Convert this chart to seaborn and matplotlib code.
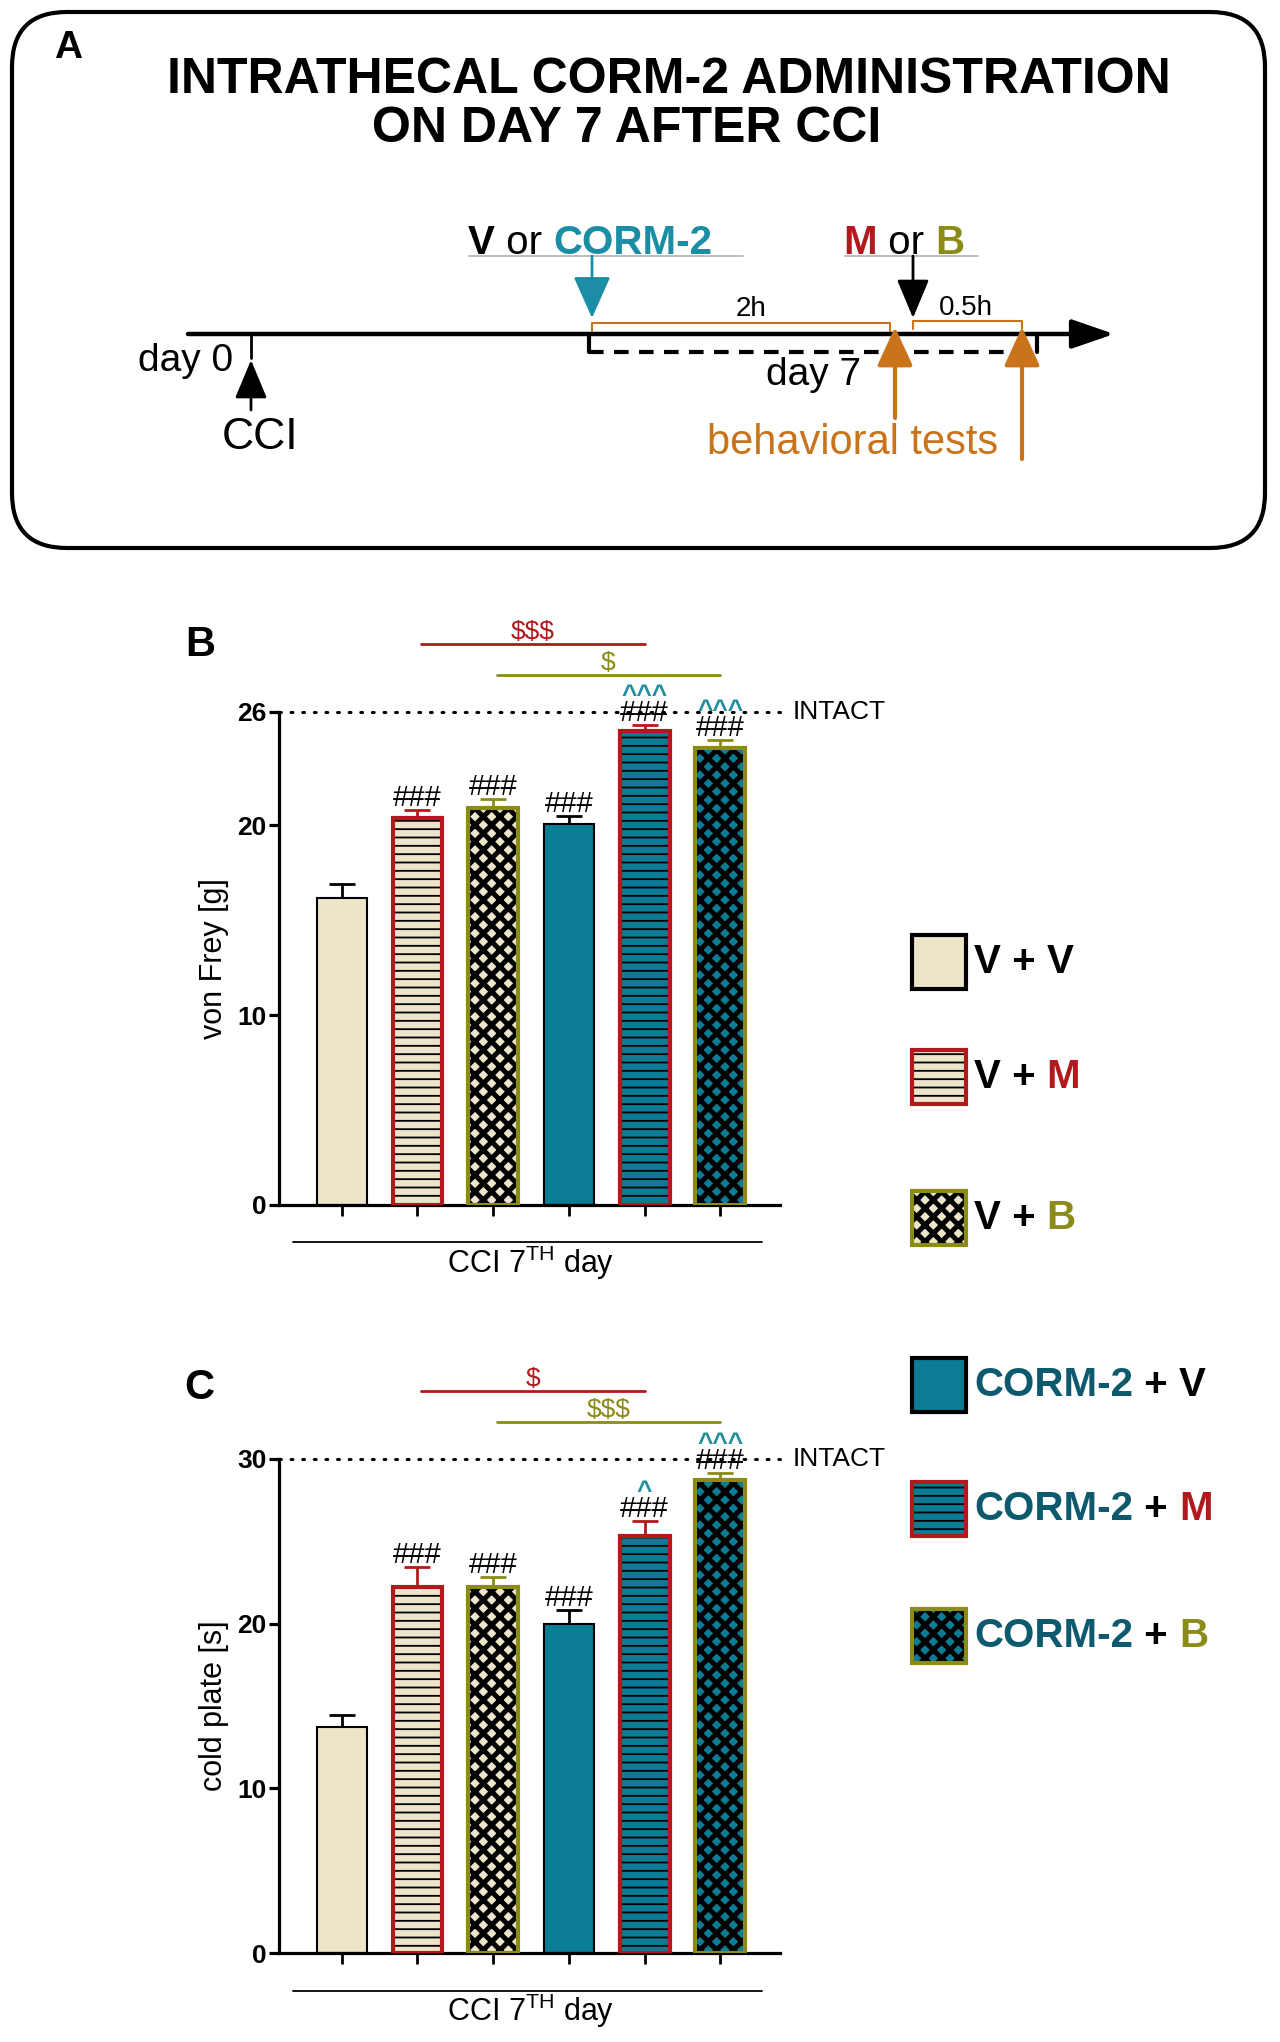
import matplotlib
matplotlib.use("Agg")
import matplotlib.pyplot as plt
import matplotlib.transforms as mtransforms
from matplotlib.patches import Rectangle, FancyBboxPatch
import seaborn as sns

# ---- data ----
groups = ["V + V", "V + M", "V + B", "CORM-2 + V", "CORM-2 + M", "CORM-2 + B"]

vonfrey_mean = [16.2, 20.4, 20.9, 20.1, 25.0, 24.1]
vonfrey_sem = [0.7, 0.4, 0.5, 0.4, 0.3, 0.4]
vonfrey_hash = ["", "###", "###", "###", "###", "###"]
vonfrey_caret = ["", "", "", "", "^^^", "^^^"]
vonfrey_dollar = [(r"\$\$\$", 1, 4), (r"\$", 2, 5)]
vonfrey_intact = 26
vonfrey_ticks = [0, 10, 20, 26]

coldplate_mean = [13.7, 22.2, 22.2, 20.0, 25.3, 28.7]
coldplate_sem = [0.75, 1.25, 0.65, 0.8, 0.95, 0.45]
coldplate_hash = ["", "###", "###", "###", "###", "###"]
coldplate_caret = ["", "", "", "", "^", "^^^"]
coldplate_dollar = [(r"\$", 1, 4), (r"\$\$\$", 2, 5)]
coldplate_intact = 30
coldplate_ticks = [0, 10, 20, 30]

# ---- colours / styles ----
BEIGE = "#ece5c9"
TEAL = "#0b7c96"
RED = "#b3191c"
OLIVE = "#8b8b17"
CARET = "#1f8ea0"
ORANGE = "#c9731a"
ARROW_TEAL = "#1b8ea6"
LEGEND_TEAL = "#0d5a6e"

face = [BEIGE, BEIGE, BEIGE, TEAL, TEAL, TEAL]
edge = ["black", RED, OLIVE, "black", RED, OLIVE]
edge_lw = [1.5, 3, 3, 1.5, 3, 3]
hatch = ["", "--", "xx", "", "--", "xx"]
hatch_lw = [1, 1.3, 3.6, 1, 1.3, 3.6]
dollar_colors = [RED, OLIVE]

sns.set_theme(style="ticks")
plt.rcParams["font.family"] = ["Liberation Sans", "DejaVu Sans"]
plt.rcParams["mathtext.fontset"] = "custom"
plt.rcParams["mathtext.rm"] = "Liberation Sans"
plt.rcParams["mathtext.it"] = "Liberation Sans:italic"
plt.rcParams["mathtext.bf"] = "Liberation Sans:bold"
for key in ("text.color", "axes.labelcolor", "xtick.color", "ytick.color", "axes.edgecolor"):
    plt.rcParams[key] = "black"

W, H = 1280, 2042
fig = plt.figure(figsize=(W / 100, H / 100), dpi=100)

# overlay in pixel coordinates for the schematic, panel letters and legend
ax0 = fig.add_axes([0, 0, 1, 1])
ax0.set_xlim(0, W)
ax0.set_ylim(H, 0)
ax0.axis("off")


def rainbow(ax, x, y, pieces, size, va="center"):
    t = ax.text(x, y, pieces[0][0], color=pieces[0][1], fontweight=pieces[0][2],
                fontsize=size, va=va, ha="left")
    for s, c, w in pieces[1:]:
        t = ax.annotate(s, xy=(1, 0), xycoords=t, va="bottom", ha="left",
                        color=c, fontweight=w, fontsize=size)
    return t


def arrow(ax, tail, tip, color, lw, hl=1.2, hw=0.5):
    ax.annotate("", xy=tip, xytext=tail,
                arrowprops=dict(arrowstyle=f"-|>,head_length={hl},head_width={hw}",
                                mutation_scale=20, lw=lw, color=color,
                                shrinkA=0, shrinkB=0))


# ---------------- panel A: schematic ----------------
ax0.add_patch(FancyBboxPatch((12, 12), 1253, 536, boxstyle="round,pad=0,rounding_size=55",
                             fill=False, lw=3, ec="black"))
ax0.text(68, 48, "A", fontsize=28, fontweight="bold", ha="center", va="center")
ax0.text(669, 80, "INTRATHECAL CORM-2 ADMINISTRATION", fontsize=36,
         fontweight="bold", ha="center", va="center")
ax0.text(627, 129, "ON DAY 7 AFTER CCI", fontsize=36, fontweight="bold",
         ha="center", va="center")

arrow(ax0, (188, 334), (1114, 334), "black", 3.2, hl=1.3, hw=0.45)
ax0.plot([251, 251], [334, 358], color="black", lw=2)
arrow(ax0, (251, 410), (251, 360), "black", 2)
ax0.text(186, 361, "day 0", fontsize=28, ha="center", va="center")
ax0.text(260, 437, "CCI", fontsize=32, ha="center", va="center")

ax0.plot([589, 589], [334, 352], color="black", lw=3)
ax0.plot([589, 1037], [352, 352], color="black", lw=3, ls=(0, (3.5, 2.5)))
ax0.plot([1037, 1037], [334, 352], color="black", lw=3)
ax0.text(814, 375, "day 7", fontsize=28, ha="center", va="center")

rainbow(ax0, 468, 243, [("V", "black", "bold"), (" or ", "black", "normal"),
                        ("CORM-2", ARROW_TEAL, "bold")], 29)
ax0.plot([469, 743], [256, 256], color="#b0b0b0", lw=1.2)
arrow(ax0, (592, 256), (592, 318), ARROW_TEAL, 2, hl=1.3, hw=0.58)
ax0.plot([592, 592, 890, 890], [331, 323, 323, 331], color=ORANGE, lw=1.5)
ax0.text(751, 309, "2h", fontsize=20, ha="center", va="center")

rainbow(ax0, 843, 243, [("M", RED, "bold"), (" or ", "black", "normal"),
                        ("B", OLIVE, "bold")], 29)
ax0.plot([845, 978], [256, 256], color="#b0b0b0", lw=1.2)
arrow(ax0, (913, 256), (913, 318), "black", 2)
ax0.plot([913, 913, 1022, 1022], [329, 321, 321, 329], color=ORANGE, lw=1.5)
ax0.text(966, 308, "0.5h", fontsize=20, ha="center", va="center")

arrow(ax0, (895, 418), (895, 327), ORANGE, 3, hl=1.2, hw=0.55)
arrow(ax0, (1022, 459), (1022, 327), ORANGE, 3, hl=1.2, hw=0.55)
ax0.text(853, 443, "behavioral tests", fontsize=30, color=ORANGE, ha="center", va="center")

ax0.text(200, 645, "B", fontsize=30, fontweight="bold", ha="center", va="center")
ax0.text(199, 1388, "C", fontsize=30, fontweight="bold", ha="center", va="center")


# ---------------- panels B and C ----------------
def bar_panel(ax, means, sems, hashes, carets, dollars, intact, ticks, ylabel):
    sns.barplot(x=groups, y=means, hue=groups, order=groups, hue_order=groups,
                palette=dict(zip(groups, face)), width=0.66, saturation=1,
                legend=False, errorbar=None, ax=ax)
    bars = sorted(ax.patches, key=lambda p: p.get_x())
    for i, p in enumerate(bars):
        p.set_facecolor(face[i])
        p.set_edgecolor("black")
        p.set_linewidth(0)
        p.set_hatch(hatch[i])
        if hasattr(p, "set_hatch_linewidth"):
            p.set_hatch_linewidth(hatch_lw[i])
        p.set_zorder(2)
    ax.bar(range(len(groups)), means, width=0.66, fill=False, edgecolor=edge,
           linewidth=edge_lw, zorder=3)
    for i, (m, s) in enumerate(zip(means, sems)):
        ax.errorbar(i, m, yerr=[[0], [s]], fmt="none", ecolor=edge[i],
                    elinewidth=2, capsize=9.5, capthick=2, zorder=1)
        top = m + s
        if hashes[i]:
            ax.annotate(hashes[i], xy=(i, top), xytext=(0, 3), textcoords="offset points",
                        ha="center", va="baseline", fontsize=21, color="black")
        if carets[i]:
            ax.annotate(carets[i], xy=(i, top), xytext=(0, 16), textcoords="offset points",
                        ha="center", va="baseline", fontsize=19, fontweight="bold",
                        color=CARET)

    ax.axhline(intact, color="black", lw=2.2, ls=(0, (0.6, 3.2)), dash_capstyle="round",
               zorder=0, clip_on=False)
    trans = mtransforms.blended_transform_factory(ax.transAxes, ax.transData)
    ax.text(1.026, intact, "INTACT", transform=trans, fontsize=19, va="center", ha="left")

    xt = ax.get_xaxis_transform()
    for (txt, a, b), yl, c in zip(dollars, [1.138, 1.075], dollar_colors):
        ax.plot([a + 0.05, b], [yl, yl], color=c, lw=2, transform=xt, clip_on=False)
        ax.text((a + b) / 2 + 0.02, yl + 0.01, txt, color=c, fontsize=19, ha="center",
                va="baseline", transform=xt)

    ax.plot([-0.64, 5.55], [-0.076, -0.076], color="black", lw=1.3, transform=xt,
            clip_on=False)
    ax.text(2.5, -0.118, r"CCI 7$^{\mathrm{TH}}$ day", transform=xt, fontsize=22,
            ha="center", va="center")

    ax.set_xlim(-0.83, 5.79)
    ax.set_ylim(0, intact)
    ax.set_yticks(ticks)
    ax.set_xticks(range(len(groups)))
    ax.set_xticklabels([])
    ax.set_xlabel("")
    ax.set_ylabel(ylabel, fontsize=22)
    ax.yaxis.set_label_coords(-0.1, 0.5)
    sns.despine(ax=ax)
    for sp in ("left", "bottom"):
        ax.spines[sp].set_linewidth(2.3)
    ax.tick_params(axis="y", width=2.3, length=7, labelsize=19, pad=2)
    ax.tick_params(axis="x", width=2, length=8)
    plt.setp(ax.get_yticklabels(), fontweight="bold")


left = 279 / W
width = (780 - 279) / W
axB = fig.add_axes([left, 1 - 1204.7 / H, width, (1204.7 - 711.7) / H])
axC = fig.add_axes([left, 1 - 1953 / H, width, (1953 - 1459) / H])
bar_panel(axB, vonfrey_mean, vonfrey_sem, vonfrey_hash, vonfrey_caret, vonfrey_dollar,
          vonfrey_intact, vonfrey_ticks, "von Frey [g]")
bar_panel(axC, coldplate_mean, coldplate_sem, coldplate_hash, coldplate_caret,
          coldplate_dollar, coldplate_intact, coldplate_ticks, "cold plate [s]")

# ---------------- legend ----------------
legend_y = [962, 1077, 1218, 1385, 1509, 1636]
legend_text = [
    [("V", "black"), (" + ", "black"), ("V", "black")],
    [("V", "black"), (" + ", "black"), ("M", RED)],
    [("V", "black"), (" + ", "black"), ("B", OLIVE)],
    [("CORM-2", LEGEND_TEAL), (" + ", "black"), ("V", "black")],
    [("CORM-2", LEGEND_TEAL), (" + ", "black"), ("M", RED)],
    [("CORM-2", LEGEND_TEAL), (" + ", "black"), ("B", OLIVE)],
]
for i, y in enumerate(legend_y):
    r = Rectangle((912, y - 27), 54, 54, facecolor=face[i], edgecolor="black",
                  linewidth=0, hatch=hatch[i])
    if hasattr(r, "set_hatch_linewidth"):
        r.set_hatch_linewidth(hatch_lw[i])
    ax0.add_patch(r)
    ax0.add_patch(Rectangle((912, y - 27), 54, 54, fill=False, edgecolor=edge[i],
                            linewidth=3))
    rainbow(ax0, 974, y, [(s, c, "bold") for s, c in legend_text[i]], 29)

fig.savefig("out.png", dpi=100)
